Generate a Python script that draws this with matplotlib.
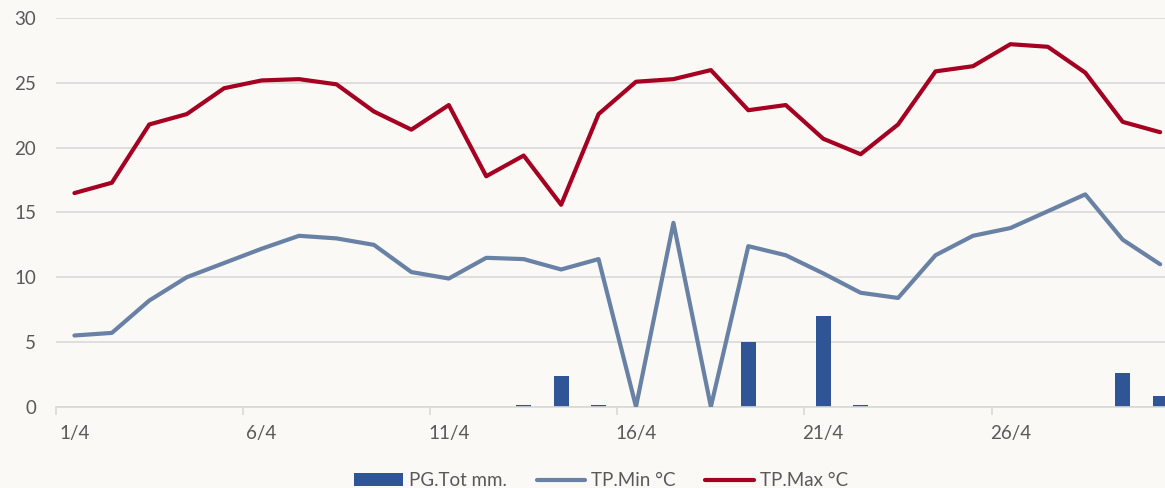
import matplotlib.pyplot as plt
from matplotlib.patches import Patch
from matplotlib.lines import Line2D

days = [f"{d}/4" for d in range(1, 31)]

# PG.Tot mm. (rain)
pg_tot = [0, 0, 0, 0, 0, 0, 0, 0, 0, 0,
          0, 0, 0.1, 2.4, 0.1, 0, 0, 0, 5.0, 0,
          7.0, 0.1, 0, 0, 0, 0, 0, 0, 2.6, 0.8]

# TP.Min °C
tp_min = [5.5, 5.7, 8.2, 10.0, 11.1, 12.2, 13.2, 13.0, 12.5, 10.4,
          9.9, 11.5, 11.4, 10.6, 11.4, 0.0, 14.2, 0.0, 12.4, 11.7,
          10.3, 8.8, 8.4, 11.7, 13.2, 13.8, 15.1, 16.4, 12.9, 11.0]

# TP.Max °C
tp_max = [16.5, 17.3, 21.8, 22.6, 24.6, 25.2, 25.3, 24.9, 22.8, 21.4,
          23.3, 17.8, 19.4, 15.6, 22.6, 25.1, 25.3, 26.0, 22.9, 23.3,
          20.7, 19.5, 21.8, 25.9, 26.3, 28.0, 27.8, 25.8, 22.0, 21.2]

BG = "#FAF9F5"
GRID = "#D9D9D9"
TXT = "#595959"
BAR_C = "#2F5597"
MIN_C = "#6881A4"
MAX_C = "#A50021"

plt.rcParams["font.family"] = ["Lato", "DejaVu Sans"]

fig = plt.figure(figsize=(11.65, 4.88), dpi=100, facecolor=BG)
ax = fig.add_axes([0.0478, 0.1666, 0.9641, 0.7959], facecolor=BG)

x = list(range(len(days)))
ax.bar(x, pg_tot, width=0.4, color=BAR_C, zorder=2)
ax.plot(x, tp_min, color=MIN_C, lw=3, solid_capstyle="round", zorder=3)
ax.plot(x, tp_max, color=MAX_C, lw=3, solid_capstyle="round", zorder=4)

ax.set_xlim(-0.5, 29.5)
ax.set_ylim(0, 30)
ax.set_yticks(range(0, 31, 5))
ax.yaxis.grid(True, color=GRID, lw=1.2, zorder=0)
ax.tick_params(axis="y", length=0, pad=14, labelsize=13.5, labelcolor=TXT)

ax.set_xticks(x[::5])
ax.set_xticklabels(days[::5])
ax.set_xticks([i - 0.5 for i in range(0, 30, 5)], minor=True)
ax.tick_params(axis="x", which="major", length=0, pad=13, labelsize=13.5, labelcolor=TXT)
ax.tick_params(axis="x", which="minor", length=6, width=1.2, color=GRID)

for s in ["top", "right", "left"]:
    ax.spines[s].set_visible(False)
ax.spines["bottom"].set_color(GRID)
ax.spines["bottom"].set_linewidth(1.2)

handles = [
    Patch(facecolor=BAR_C, edgecolor="none"),
    Line2D([], [], color=MIN_C, lw=3, solid_capstyle="round"),
    Line2D([], [], color=MAX_C, lw=3, solid_capstyle="round"),
]
fig.legend(handles, ["PG.Tot mm.", "TP.Min °C", "TP.Max °C"],
           loc="center", bbox_to_anchor=(0.516, 0.015), ncol=3,
           frameon=False, fontsize=13.5, labelcolor=TXT,
           handlelength=2.6, handletextpad=0.3, columnspacing=1.6)

fig.savefig("out.png", dpi=100, facecolor=BG)
